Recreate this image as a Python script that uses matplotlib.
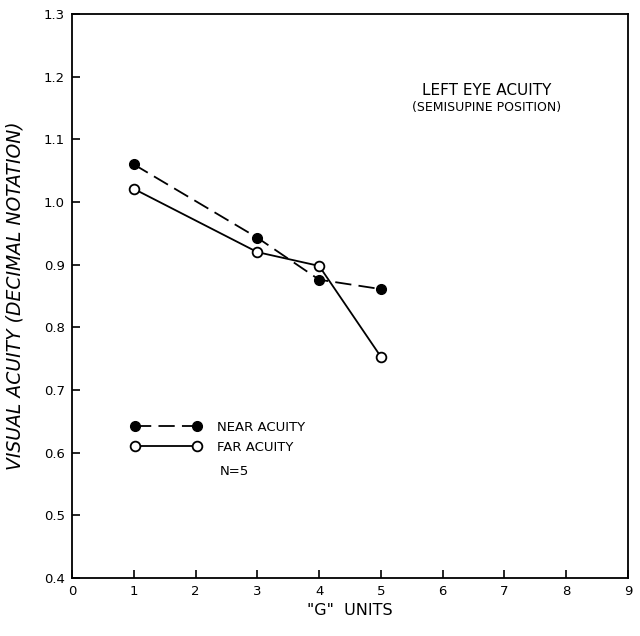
import numpy as np
import matplotlib.pyplot as plt

g_units = [1, 3, 4, 5]
near_acuity = [1.06, 0.943, 0.876, 0.861]
far_acuity = [1.021, 0.920, 0.898, 0.753]

x_ticks = np.arange(0, 10, 1)
y_ticks = np.round(np.arange(0.4, 1.31, 0.1), 1)

plt.rcParams['font.family'] = ['DejaVu Sans']

fig = plt.figure(figsize=(6.4, 6.36), dpi=100)
ax = fig.add_axes([0.1125, 0.0912, 0.8688, 0.8868])

ax.plot(g_units, near_acuity, color='black', lw=1.3, dashes=(9, 4),
        marker='o', ms=7, mfc='black', mec='black', label='NEAR ACUITY')
ax.plot(g_units, far_acuity, color='black', lw=1.3,
        marker='o', ms=7, mfc='white', mec='black', mew=1.3, label='FAR ACUITY')

ax.set_xlim(0, 9)
ax.set_ylim(0.4, 1.3)
ax.set_xticks(x_ticks)
ax.set_yticks(y_ticks)
ax.set_yticklabels(['%.1f' % v for v in y_ticks])
ax.tick_params(direction='in', length=6, width=1.2, labelsize=9.5, pad=5)
for s in ax.spines.values():
    s.set_linewidth(1.3)

ax.set_xlabel('"G"  UNITS', fontsize=11.5, labelpad=4)
ax.set_ylabel('VISUAL ACUITY (DECIMAL NOTATION)', fontsize=13.5,
              style='italic', labelpad=14)

ax.text(0.745, 0.865, 'LEFT EYE ACUITY', transform=ax.transAxes,
        ha='center', va='center', fontsize=11)
ax.text(0.745, 0.835, '(SEMISUPINE POSITION)', transform=ax.transAxes,
        ha='center', va='center', fontsize=9)

leg = ax.legend(loc='upper left', bbox_to_anchor=(0.085, 0.30), numpoints=2,
                handlelength=5.3, handletextpad=1.2, labelspacing=0.55,
                frameon=False, fontsize=9.5)
ax.text(0.265, 0.188, 'N=5', transform=ax.transAxes,
        ha='left', va='center', fontsize=9.5)

fig.savefig('out.png')
